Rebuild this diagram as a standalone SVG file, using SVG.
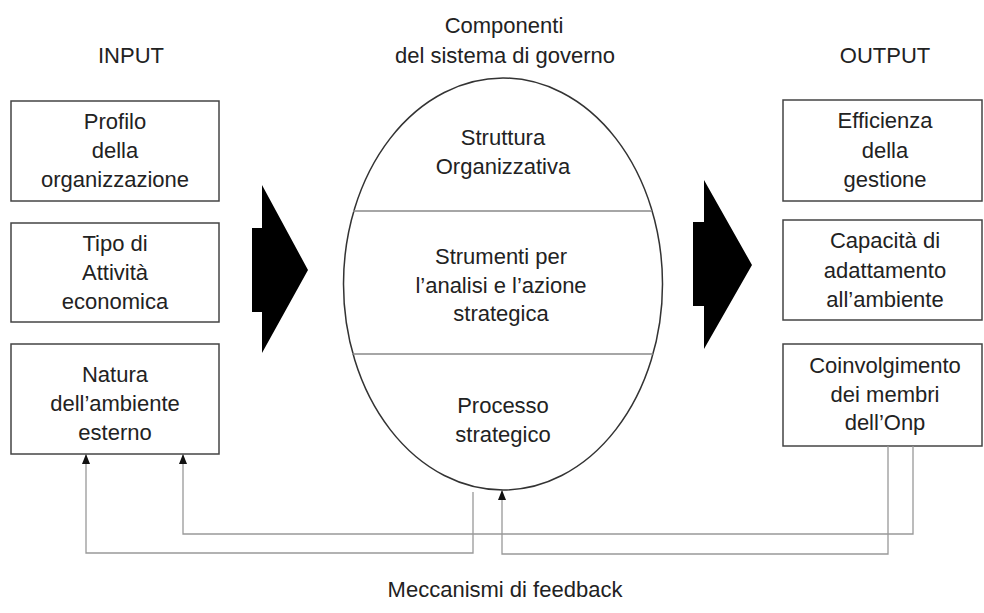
<svg xmlns="http://www.w3.org/2000/svg" width="984" height="613" viewBox="0 0 984 613">
  <defs>
    <!-- small solid head, drawn along +x so it follows the line direction -->
    <marker id="tip" markerWidth="10" markerHeight="8" refX="9" refY="4" orient="auto" markerUnits="userSpaceOnUse" viewBox="0 0 10 8">
      <path d="M0,0 L10,4 L0,8 Z" fill="#111"/>
    </marker>
    <style>
      text { font-family: "Liberation Sans", Arial, sans-serif; font-size: 22px; fill: #222; text-anchor: middle; }
      .box { fill: #fff; stroke: #444; stroke-width: 1.5; }
      .oval { fill: #fff; stroke: #333; stroke-width: 1.5; }
      .sep { stroke: #888; stroke-width: 1.3; fill: none; }
      .flow { fill: #000; }
      .fb { fill: none; stroke: #999; stroke-width: 1.3; }
    </style>
  </defs>

  <rect width="984" height="613" fill="#fff"/>

  <!-- column headings -->
  <g id="headings">
    <text x="131" y="63">INPUT</text>
    <text x="504" y="33">Componenti</text>
    <text x="505" y="63">del sistema di governo</text>
    <text x="885" y="63">OUTPUT</text>
  </g>

  <!-- input boxes -->
  <g id="in-profilo">
    <rect class="box" x="11" y="101" width="208" height="100"/>
    <text x="115" y="129">Profilo</text>
    <text x="115" y="158">della</text>
    <text x="115" y="187">organizzazione</text>
  </g>
  <g id="in-attivita">
    <rect class="box" x="11" y="223" width="208" height="99"/>
    <text x="115" y="251">Tipo di</text>
    <text x="115" y="280">Attività</text>
    <text x="115" y="309">economica</text>
  </g>
  <g id="in-ambiente">
    <rect class="box" x="11" y="344" width="208" height="110"/>
    <text x="115" y="382">Natura</text>
    <text x="115" y="411">dell’ambiente</text>
    <text x="115" y="440">esterno</text>
  </g>

  <!-- governance components -->
  <g id="governo">
    <ellipse class="oval" cx="503" cy="284" rx="159.5" ry="206"/>
    <line class="sep" x1="353" y1="211" x2="652" y2="211"/>
    <line class="sep" x1="352" y1="354" x2="653" y2="354"/>
    <text x="503" y="145">Struttura</text>
    <text x="503" y="174">Organizzativa</text>
    <text x="501" y="264">Strumenti per</text>
    <text x="501" y="293">l’analisi e l’azione</text>
    <text x="501" y="321">strategica</text>
    <text x="503" y="413">Processo</text>
    <text x="503" y="442">strategico</text>
  </g>

  <!-- output boxes -->
  <g id="out-efficienza">
    <rect class="box" x="783" y="100" width="199" height="101"/>
    <text x="885" y="128">Efficienza</text>
    <text x="885" y="158">della</text>
    <text x="885" y="187">gestione</text>
  </g>
  <g id="out-adattamento">
    <rect class="box" x="783" y="220" width="199" height="100"/>
    <text x="885" y="248">Capacità di</text>
    <text x="885" y="278">adattamento</text>
    <text x="885" y="307">all’ambiente</text>
  </g>
  <g id="out-coinvolgimento">
    <rect class="box" x="783" y="344" width="199" height="102"/>
    <text x="885" y="373">Coinvolgimento</text>
    <text x="885" y="402">dei membri</text>
    <text x="885" y="430">dell’Onp</text>
  </g>

  <!-- connectors -->
  <g id="connectors">
    <polygon class="flow" points="262,185 308,270 262,353 262,312 252,312 252,228 262,228"/>
    <polygon class="flow" points="704,180 752,265 704,349 704,306 693,306 693,222 704,222"/>
    <polyline class="fb" points="473,492 473,553 86,553 86,455" marker-end="url(#tip)"/>
    <polyline class="fb" points="913,446 913,534 183,534 183,455" marker-end="url(#tip)"/>
    <polyline class="fb" points="888,446 888,554 502,554 502,491" marker-end="url(#tip)"/>
  </g>

  <g id="caption">
    <text x="505" y="597">Meccanismi di feedback</text>
  </g>
</svg>
